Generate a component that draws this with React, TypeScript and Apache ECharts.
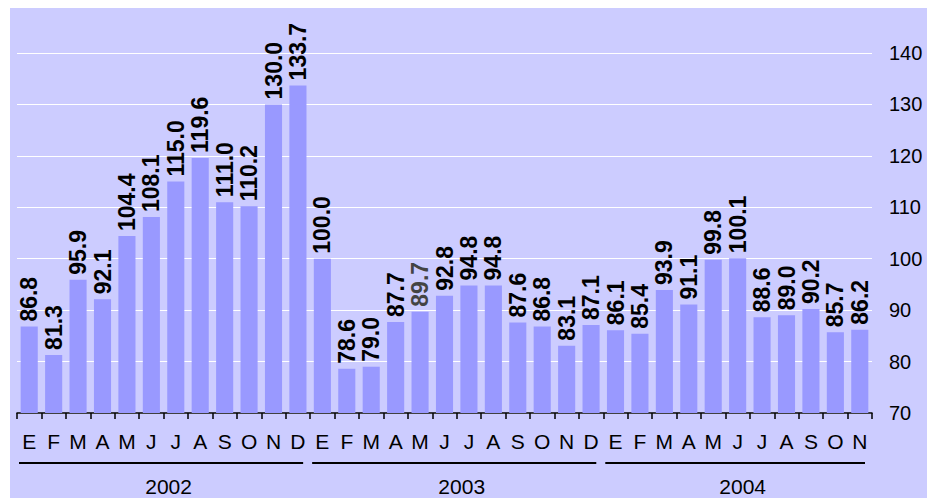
import React, { useEffect, useRef } from "react";
import * as echarts from "echarts";

const months2002 = ["E", "F", "M", "A", "M", "J", "J", "A", "S", "O", "N", "D"];
const months2003 = ["E", "F", "M", "A", "M", "J", "J", "A", "S", "O", "N", "D"];
const months2004 = ["E", "F", "M", "A", "M", "J", "J", "A", "S", "O", "N"];
const values2002 = [86.8, 81.3, 95.9, 92.1, 104.4, 108.1, 115.0, 119.6, 111.0, 110.2, 130.0, 133.7];
const values2003 = [100.0, 78.6, 79.0, 87.7, 89.7, 92.8, 94.8, 94.8, 87.6, 86.8, 83.1, 87.1];
const values2004 = [86.1, 85.4, 93.9, 91.1, 99.8, 100.1, 88.6, 89.0, 90.2, 85.7, 86.2];
const years = ["2002", "2003", "2004"];
const yTicks = { min: 70, max: 140, interval: 10 };
const grayLabelIndex = 16; // the 89.7 label is drawn in gray in the reference

const FONT = "'Liberation Sans', Arial, Helvetica, sans-serif";

export default function App() {
  const ref = useRef<HTMLDivElement>(null);
  useEffect(() => {
    if (!ref.current) return;
    const chart = echarts.init(ref.current, null, { renderer: "svg" });
    const monthGroups = [months2002, months2003, months2004];
    const categories = monthGroups.flat();
    const values = [...values2002, ...values2003, ...values2004];
    const data = values.map((v, i) =>
      i === grayLabelIndex ? { value: v, label: { color: "#444444" } } : v
    );
    chart.setOption({
      animation: false,
      backgroundColor: "#CCCCFF",
      textStyle: { fontFamily: FONT },
      grid: { left: 7, right: 55, top: 45, bottom: 85 },
      xAxis: {
        type: "category",
        data: categories,
        boundaryGap: true,
        axisLine: { show: true, lineStyle: { color: "#000", width: 1.5 } },
        axisTick: { show: true, interval: 0, length: 6, lineStyle: { color: "#000", width: 1.5 } },
        axisLabel: { interval: 0, color: "#000", fontSize: 21, fontFamily: FONT, margin: 18 },
        splitLine: { show: false },
      },
      yAxis: {
        type: "value",
        position: "right",
        min: yTicks.min,
        max: yTicks.max,
        interval: yTicks.interval,
        axisLine: { show: false },
        axisTick: { show: false },
        axisLabel: { color: "#000", fontSize: 20, fontFamily: FONT, margin: 17 },
        splitLine: { show: true, lineStyle: { color: "#FFFFFF", width: 1 } },
      },
      series: [
        {
          type: "bar",
          data,
          barCategoryGap: "30%",
          itemStyle: { color: "#9999FF" },
          label: {
            show: true,
            position: "top",
            rotate: 90,
            align: "left",
            verticalAlign: "middle",
            distance: 5,
            fontSize: 23,
            fontWeight: "bold",
            fontFamily: FONT,
            color: "#000",
            formatter: (p: any) => Number(p.value).toFixed(1),
          },
        },
      ],
    });

    const graphics: any[] = [];
    let start = 0;
    const p0 = chart.convertToPixel({ xAxisIndex: 0 }, 0) as number;
    const p1 = chart.convertToPixel({ xAxisIndex: 0 }, 1) as number;
    const band = p1 - p0;
    monthGroups.forEach((g, gi) => {
      const first = chart.convertToPixel({ xAxisIndex: 0 }, start) as number;
      const last = chart.convertToPixel({ xAxisIndex: 0 }, start + g.length - 1) as number;
      const x1 = first - band / 2 + 2;
      const x2 = last + band / 2 - 7;
      graphics.push({
        type: "line",
        shape: { x1, y1: 455, x2, y2: 455 },
        style: { stroke: "#000", lineWidth: 2 },
      });
      graphics.push({
        type: "text",
        x: (first + last) / 2 + 5,
        y: 478,
        style: {
          text: years[gi],
          fill: "#000",
          font: `21px ${FONT}`,
          textAlign: "center",
          textVerticalAlign: "middle",
        },
      });
      start += g.length;
    });
    chart.setOption({ graphic: graphics });

    return () => chart.dispose();
  }, []);
  return (
    <div
      ref={ref}
      style={{ position: "absolute", left: 10, top: 8, width: 917, height: 490 }}
    />
  );
}
